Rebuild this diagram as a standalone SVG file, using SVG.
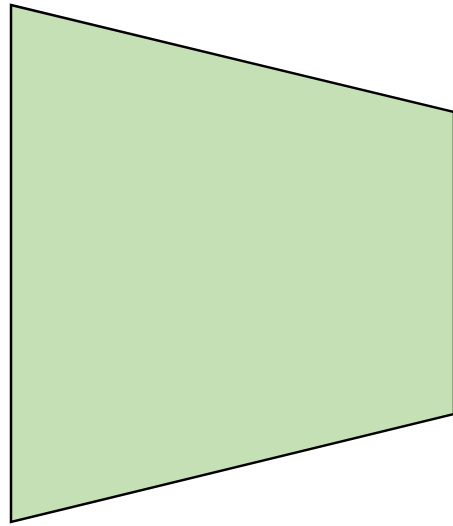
<svg xmlns="http://www.w3.org/2000/svg" width="453" height="526" viewBox="0 0 453 526">
<style>.shape{fill:#C5E0B4;stroke:#000;stroke-width:2.5;stroke-linejoin:miter}</style>
<rect width="453" height="526" fill="#fff"/>
<g id="trapezoid">
<polygon class="shape" points="11,5 454,112 454,414 11,522"/>
</g>
<g id="connectors"></g>
</svg>
